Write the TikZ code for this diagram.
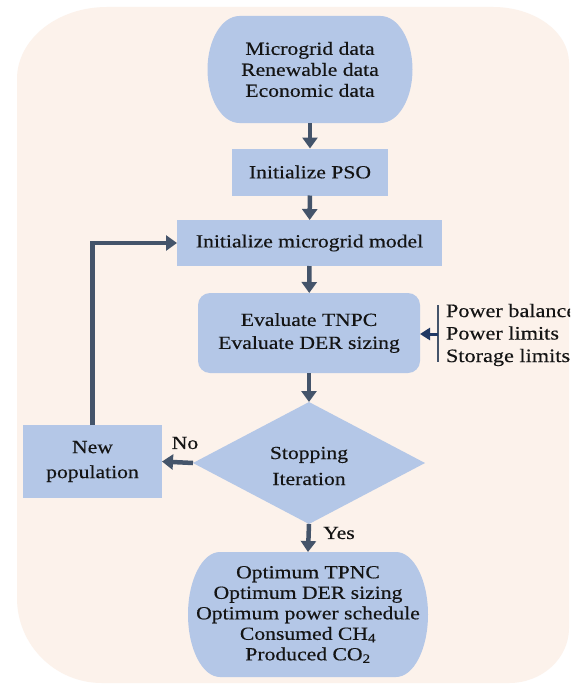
\documentclass[tikz,border=0pt]{standalone}
\usepackage{fontspec}
\setmainfont{Liberation Serif}[FakeStretch=1.17,FakeBold=0.4]
\usetikzlibrary{arrows.meta,shapes.geometric,backgrounds}
\definecolor{bgc}{HTML}{FCF2EB}
\definecolor{boxc}{HTML}{B4C7E7}
\definecolor{arrc}{HTML}{44546A}
\definecolor{navyc}{HTML}{1F3864}
\definecolor{txtc}{HTML}{141414}
\tikzset{
  x=1pt, y=-1pt,
  base/.style={inner sep=0pt, outer sep=0pt, text=txtc, align=center,
    font=\fontsize{18.5}{21}\selectfont},
  box/.style={base, fill=boxc},
  rbox/.style={base, fill=boxc, rounded corners=12pt},
  term/.style={base},
  dia/.style={diamond, fill=boxc, inner sep=0pt, outer sep=0pt},
  txt/.style={base},
  arr/.style={draw=arrc, line width=4.5pt, -{Triangle[width=15pt,length=11pt]}},
  loop/.style={draw=arrc, line width=4.5pt, -{Triangle[width=15pt,length=11pt]}},
  navyarr/.style={draw=navyc, line width=3pt, -{Triangle[width=12pt,length=10pt]}},
  barline/.style={draw=arrc, line width=2.5pt},
}
\newcommand{\termfill}[3]{% node, x radius, y radius
  \begin{pgfonlayer}{background}
  \fill[boxc] ([xshift=#2]#1.north west) -- ([xshift=-#2]#1.north east)
    arc[start angle=90, end angle=-90, x radius=#2, y radius=#3]
    -- ([xshift=#2]#1.south west)
    arc[start angle=270, end angle=90, x radius=#2, y radius=#3] -- cycle;
  \end{pgfonlayer}}
\begin{document}
\begin{tikzpicture}
\useasboundingbox (0,0) rectangle (583,685);
\begin{pgfonlayer}{background}
\fill[white] (0,0) rectangle (583,685);
\fill[bgc] (107,7) -- (493,7) arc[start angle=90, end angle=0, x radius=76pt, y radius=56pt]
  -- (569,628) arc[start angle=0, end angle=-90, x radius=60pt, y radius=55pt]
  -- (102,683) arc[start angle=-90, end angle=-180, x radius=85pt, y radius=85pt]
  -- (17,79) arc[start angle=180, end angle=90, x radius=90pt, y radius=72pt] -- cycle;
\end{pgfonlayer}
\begin{scope}
\clip (0,0) rectangle (570,685);
% nodes
\node[term, minimum width=205, minimum height=107] (data) at (310,69.5)
  {Microgrid data\\Renewable data\\Economic data};
\termfill{data}{32pt}{53.5pt}
\node[box, minimum width=156, minimum height=47] (pso) at (310,172) {Initialize PSO};
\node[box, minimum width=265, minimum height=46] (model) at (309.5,243) {Initialize microgrid model};
\node[rbox, minimum width=222, minimum height=80] (eval) at (309,333)
  {Evaluate TNPC\\[2pt]Evaluate DER sizing};
\node[dia, minimum width=232, minimum height=122] (stop) at (309,463) {};
\node[txt] (stoptxt) at (309,466) {Stopping\\[5pt]Iteration};
\node[box, minimum width=139, minimum height=73] (newpop) at (92.5,461.5) {New\\[4pt]population};
\node[term, minimum width=240, minimum height=125] (res) at (308,614.5)
  {Optimum TPNC\\[-0.5pt]Optimum DER sizing\\[-0.5pt]Optimum power schedule\\[-0.5pt]Consumed CH\textsubscript{4}\\[-0.5pt]Produced CO\textsubscript{2}};
\termfill{res}{32pt}{62.5pt}
\node[txt] (no) at (185,443) {No};
\node[txt] (yes) at (339,533) {Yes};
\node[txt, align=left, anchor=west, font=\fontsize{19}{22.5}\selectfont] (cons) at (446,335)
  {Power balance\\Power limits\\Storage limits};
\coordinate (bartop) at (438,305);
\coordinate (barbot) at (438,362);
\coordinate (barmid) at (438,334);
% connectors
\draw[arr] (data) -- (pso);
\draw[arr] (pso) -- (model);
\draw[arr] (model) -- (eval);
\draw[arr] (eval) -- (stop.north);
\draw[arr] (stop.west) -- (newpop.east);
\draw[arr] (stop.south) -- (res.north);
\draw[loop] (newpop.north) |- (model.west);
\draw[barline] (bartop) -- (barbot);
\draw[navyarr] (barmid) -- (eval.east |- barmid);
\end{scope}
\end{tikzpicture}
\end{document}
